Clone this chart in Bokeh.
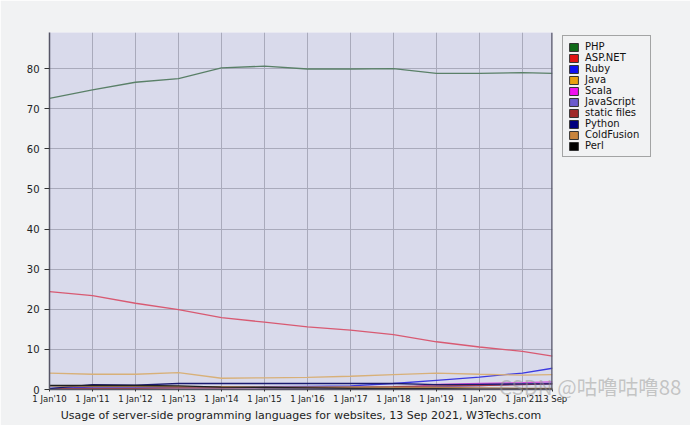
import pandas as pd
from bokeh.plotting import figure
from bokeh.layouts import column
from bokeh.models import (Range1d, FixedTicker, CustomJSTickFormatter, Legend, LegendItem,
                          ColumnDataSource, Span, Div)
from bokeh.embed import file_html
from bokeh.resources import INLINE

dates = ["2010-01-01", "2011-01-01", "2012-01-01", "2013-01-01", "2014-01-01", "2015-01-01",
         "2016-01-01", "2017-01-01", "2018-01-01", "2019-01-01", "2020-01-01", "2021-01-01",
         "2021-09-13"]

php        = [72.6, 74.7, 76.6, 77.5, 80.2, 80.6, 79.9, 79.9, 80.0, 78.8, 78.8, 79.0, 78.8]
aspnet     = [24.4, 23.4, 21.5, 19.9, 17.9, 16.8, 15.6, 14.8, 13.7, 11.9, 10.6, 9.5, 8.3]
ruby       = [0.3, 0.6, 0.6, 0.6, 0.6, 0.7, 0.8, 0.9, 1.5, 2.3, 3.1, 4.1, 5.3]
java       = [4.1, 3.8, 3.8, 4.2, 2.8, 2.9, 3.0, 3.3, 3.7, 4.1, 3.8, 3.6, 3.7]
scala      = [0.0, 0.0, 0.0, 0.0, 0.0, 0.0, 0.0, 0.1, 0.2, 1.3, 1.5, 1.7, 1.9]
javascript = [0.0, 0.0, 0.0, 0.0, 0.0, 0.0, 0.1, 0.2, 0.4, 0.7, 1.0, 1.3, 1.6]
static     = [0.2, 0.3, 0.3, 0.4, 0.4, 0.5, 0.5, 0.6, 0.7, 0.9, 1.0, 1.2, 1.4]
python     = [0.2, 1.2, 1.1, 1.5, 1.5, 1.5, 1.5, 1.5, 1.5, 1.2, 1.3, 1.4, 1.4]
coldfusion = [0.9, 0.8, 0.8, 0.7, 0.7, 0.6, 0.6, 0.6, 0.5, 0.5, 0.4, 0.3, 0.3]
perl       = [1.0, 1.0, 1.0, 0.9, 0.6, 0.5, 0.4, 0.3, 0.2, 0.2, 0.1, 0.1, 0.1]

names = ["PHP", "ASP.NET", "Ruby", "Java", "Scala", "JavaScript", "static files",
         "Python", "ColdFusion", "Perl"]
series = [php, aspnet, ruby, java, scala, javascript, static, python, coldfusion, perl]
legend_colors = ["#0f6a18", "#e01414", "#1010f0", "#e8a010", "#f010f0", "#6a5acd",
                 "#a02828", "#000080", "#c8843c", "#000000"]
line_colors = ["#5a8068", "#d85a72", "#3c3ae0", "#d8b078", "#d050d8", "#7a6ad0",
               "#a04048", "#1a1a70", "#b08050", "#202020"]

BG = "#f1f2f3"
x = pd.to_datetime(dates)

p = figure(width=690, height=425, x_axis_type="datetime", output_backend="svg",
           toolbar_location=None, background_fill_color="#d9daeb",
           border_fill_color=BG, outline_line_color=None,
           min_border_left=49, min_border_top=32, min_border_right=138, min_border_bottom=36)
p.x_range = Range1d(x[0], x[-1])
p.y_range = Range1d(0, 89)

for name, vals, lc in zip(names, series, line_colors):
    p.line(x, vals, line_color=lc, line_width=1.3)

tick_ms = [pd.Timestamp(d).value // 10**6 for d in dates]
p.xaxis.ticker = FixedTicker(ticks=tick_ms)
p.xaxis.formatter = CustomJSTickFormatter(code="""
const d = new Date(tick);
const mon = ["Jan","Feb","Mar","Apr","May","Jun","Jul","Aug","Sep","Oct","Nov","Dec"];
if (d.getUTCMonth() == 0 && d.getUTCDate() == 1) {
  return "1 Jan'" + String(d.getUTCFullYear()).slice(2);
}
return d.getUTCDate() + " " + mon[d.getUTCMonth()];
""")
p.yaxis.ticker = FixedTicker(ticks=[0, 10, 20, 30, 40, 50, 60, 70, 80])

for ax in (p.xaxis[0], p.yaxis[0]):
    ax.axis_line_color = "#555566"
    ax.axis_line_width = 1.5
    ax.major_tick_line_color = "#333333"
    ax.minor_tick_line_color = None
    ax.major_tick_in = 0
    ax.major_label_text_font = "DejaVu Sans"
    ax.major_label_text_color = "#222222"

p.xaxis.major_tick_out = 2
p.xaxis.major_label_standoff = 2
p.xaxis.major_label_text_font_size = "8.5px"
p.yaxis.major_tick_out = 5
p.yaxis.major_label_standoff = 5
p.yaxis.major_label_text_font_size = "10px"

p.xaxis.axis_label = "Usage of server-side programming languages for websites, 13 Sep 2021, W3Techs.com"
p.xaxis.axis_label_text_font = "DejaVu Sans"
p.xaxis.axis_label_text_font_style = "normal"
p.xaxis.axis_label_text_font_size = "11px"
p.xaxis.axis_label_text_color = "#222222"
p.xaxis.axis_label_standoff = 2

p.grid.grid_line_color = "#a9aabb"
p.grid.grid_line_width = 1

p.add_layout(Span(location=x[-1], dimension="height", line_color="#555566", line_width=2.5))

# legend in a small overlay figure
leg = figure(width=98, height=124, output_backend="svg", toolbar_location=None,
             x_axis_location=None, y_axis_location=None, background_fill_color=BG,
             border_fill_color=BG, outline_line_color=None,
             min_border_left=0, min_border_top=0, min_border_right=0, min_border_bottom=0,
             x_range=Range1d(0, 1), y_range=Range1d(0, 1),
             styles={"position": "absolute", "left": "559px", "top": "35px"})
leg.grid.visible = False

items = []
for name, gc in zip(names, legend_colors):
    src = ColumnDataSource(dict(x=[float("nan")], y=[float("nan")]))
    r = leg.rect("x", "y", width=1, height=1, source=src, fill_color=gc,
                 line_color="#333333", line_width=1)
    items.append(LegendItem(label=name, renderers=[r]))

legend = Legend(items=items, location="top_left", border_line_color="#555555",
                border_line_width=1, background_fill_color=BG, background_fill_alpha=1,
                padding=5, spacing=0, margin=0, glyph_height=10, glyph_width=11,
                label_height=10, label_width=60, label_standoff=6,
                label_text_font="DejaVu Sans",
                label_text_font_size="10px", label_text_line_height=1.0,
                label_text_color="#111111")
leg.add_layout(legend)

wm = Div(text="CSDN @咕噜咕噜88",
         styles={"position": "absolute", "left": "494px", "top": "367px",
                 "font-family": "Noto Sans CJK SC", "font-size": "20.5px",
                 "color": "rgba(150,150,150,0.5)", "white-space": "nowrap"})

layout = column(p, leg, wm, spacing=0)
open("out.html", "w").write(file_html(layout, INLINE))
